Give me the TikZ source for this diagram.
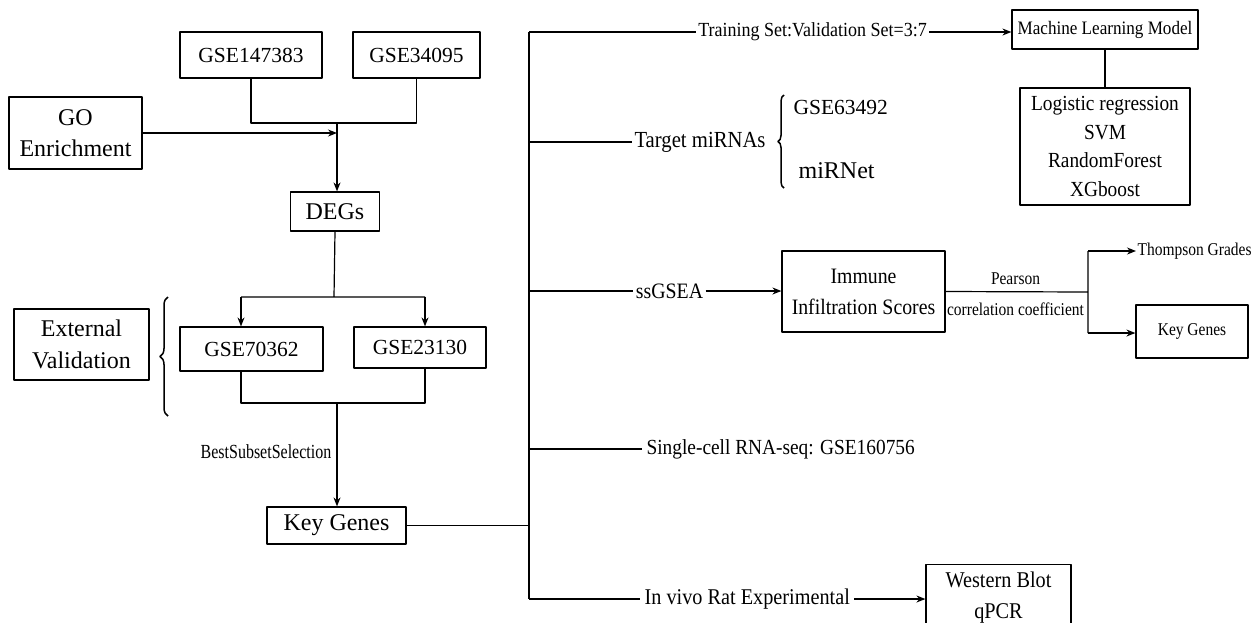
\documentclass[tikz,border=0pt]{standalone}
\usepackage{fontspec}
\setmainfont{Liberation Serif}
\newfontfamily\condf[FakeStretch=0.9]{Liberation Serif}
\newfontfamily\semif[FakeStretch=0.8]{Liberation Serif}
\newfontfamily\smallf[FakeStretch=0.86]{Liberation Serif}
\usetikzlibrary{arrows.meta,decorations.pathreplacing}
\newcommand{\fsz}[2]{\fontsize{#1}{#2}\selectfont}
\begin{document}
\begin{tikzpicture}[x=1pt,y=-1pt,line join=round,line width=1.2pt,>={Stealth[length=9pt,width=7pt]},
	box/.style={draw,line width=1.2pt,inner sep=0pt,align=center},
	hbox/.style={box,line width=2.6pt},
	lab/.style={inner sep=2pt,font=\condf\fsz{22}{26}},
	small/.style={inner sep=1pt,font=\smallf\fsz{18}{20}}]
	\path[use as bounding box] (0,0) rectangle (1253,622);
	\clip (0,0) rectangle (1253,622);
	% left column
	\node[hbox,minimum width=142,minimum height=46,font=\fsz{21.5}{26}] (g1) at (251,55) {GSE147383};
	\node[hbox,minimum width=127,minimum height=46,font=\fsz{21.5}{26}] (g2) at (416.5,55) {GSE34095};
	\node[hbox,minimum width=133,minimum height=72,font=\fsz{24}{31}] (go) at (75.5,133) {GO\\Enrichment};
	\node[box,minimum width=89,minimum height=39,font=\fsz{24}{28}] (degs) at (335,211.5) {DEGs};
	\node[hbox,minimum width=135,minimum height=71,font=\fsz{24}{32}] (ext) at (81.5,344.5) {External\\Validation};
	\node[box,minimum width=143,minimum height=44,font=\fsz{21.5}{26}] (g3) at (251.5,349) {GSE70362};
	\node[box,minimum width=132,minimum height=41,font=\fsz{21.5}{26}] (g4) at (420,347.5) {GSE23130};
	\node[box,minimum width=139,minimum height=37,font=\fsz{24}{28}] (key) at (336.5,525.5) {Key Genes};
	\node[inner sep=1pt,font=\semif\fsz{20}{24}] (bss) at (266,452) {BestSubsetSelection};
	\path
	(337,123)coordinate(j1)
	(334,297)coordinate(s1)
	(241,297)coordinate(a1)
	(425,297)coordinate(a2)
	(241,403)coordinate(b1)
	(425,403)coordinate(b2)
	(337,403)coordinate(j2)
	;
	\draw (g1.south) -- (g1.south |- j1) -- (g2.south |- j1) -- (g2.south);
	\draw[->] (j1) -- (j1 |- degs.north);
	\draw[->] (go.east) -- (go.east -| j1);
	\draw (degs.south) -- (s1) (a1) -- (a2);
	\draw[->] (a1) -- (a1 |- g3.north);
	\draw[->] (a2) -- (a2 |- g4.north);
	\draw (a1 |- g3.south) -- (b1) -- (b2) -- (b2 |- g4.south);
	\draw[->] (j2) -- (j2 |- key.north);
	\draw[decorate,decoration={brace,amplitude=8pt},line width=1.5pt] (168,416) -- (168,297);
	% trunk
	\path
	(529,32)coordinate(t0)
	(529,142)coordinate(t1)
	(529,291)coordinate(t2)
	(529,449)coordinate(t3)
	(529,599)coordinate(t4)
	(1088,292)coordinate(p0)
	(1088,251)coordinate(p1)
	(1088,333)coordinate(p2)
	;
	\draw (t0) -- (t4);
	\draw (key.east) -- (key.east -| t0);
	% machine learning
	\node[lab,font=\condf\fsz{20}{24}] (tr) at (812.5,32) {Training Set:Validation Set=3:7};
	\node[box,minimum width=186,minimum height=39,font=\condf\fsz{19}{24}] (ml) at (1105,29.5) {Machine Learning Model};
	\node[box,minimum width=170,minimum height=117,font=\condf\fsz{21.5}{28.5}] (algo) at (1105,146.5) {Logistic regression\\SVM\\RandomForest\\XGboost};
	\draw (t0) -- (tr.west);
	\draw[->] (tr.east) -- (tr.east -| ml.west);
	\draw (ml.south) -- (algo.north);
	% miRNAs
	\node[lab,font=\condf\fsz{23}{26}] (tm) at (700,142) {Target miRNAs};
	\node[lab,anchor=west,font=\fsz{21.5}{26}] (m1) at (791,107) {GSE63492};
	\node[lab,anchor=west,font=\fsz{24}{26}] (m2) at (796,171) {miRNet};
	\draw (t1) -- (tm.west);
	\draw[decorate,decoration={brace,amplitude=6pt},line width=1.5pt] (784,188) -- (784,95);
	% immune
	\node[lab] (ss) at (669.5,291) {ssGSEA};
	\node[box,minimum width=163,minimum height=81,font=\condf\fsz{22}{31}] (imm) at (863.5,291.5) {Immune\\Infiltration Scores};
	\node[small] (pe) at (1015.5,279) {Pearson};
	\node[small] (cc) at (1015.5,309) {correlation coefficient};
	\node[small,anchor=west] (th) at (1136,251) {Thompson Grades};
	\node[box,minimum width=112,minimum height=53,font=\smallf\fsz{18}{20}] (key2) at (1192,331.5) {Key Genes};
	\draw (t2) -- (ss.west);
	\draw[->] (ss.east) -- (ss.east -| imm.west);
	\draw (imm.east) -- (p0) (p1) -- (p2);
	\draw[->] (p1) -- (th.west);
	\draw[->] (p2) -- (p2 -| key2.west);
	% single cell
	\node[lab,anchor=west,inner sep=4pt,font=\condf\fsz{21.5}{26}] (sc) at (642,449) {Single-cell RNA-seq: GSE160756};
	\draw (t3) -- (sc.west);
	% rat
	\node[lab,anchor=west,inner sep=4pt,font=\condf\fsz{22.5}{26}] (iv) at (640,599) {In vivo Rat Experimental};
	\node[box,anchor=north,inner ysep=7pt,minimum width=145,font=\condf\fsz{22.5}{31}] (wb) at (998.5,564) {Western Blot\\qPCR};
	\draw (t4) -- (iv.west);
	\draw[->] (iv.east) -- (iv.east -| wb.west);
\end{tikzpicture}
\end{document}
